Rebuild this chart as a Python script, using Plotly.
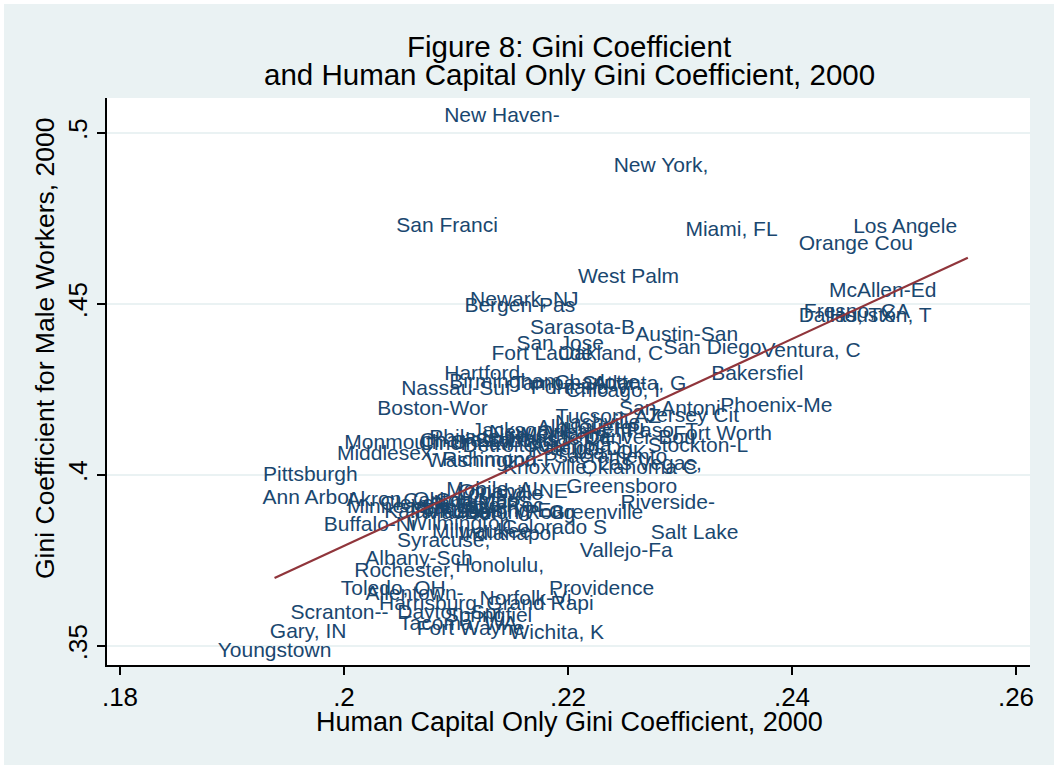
import plotly.graph_objects as go

# ---- data ----
metro = [
    "New Haven-", "New York,", "San Franci", "Miami, FL", "Los Angele", "Orange Cou",
    "West Palm", "McAllen-Ed", "Newark, NJ", "Bergen-Pas", "Fresno, CA", "Dallas, TX",
    "Houston, T", "Sarasota-B", "Austin-San", "San Jose", "San Diego", "Fort Laude",
    "Oakland, C", "Ventura, C", "Bakersfiel", "Hartford,", "Birmingham", "Tampa-St.",
    "Charlotte-", "Portland-V", "Atlanta, G", "Chicago, I", "Nassau-Suf", "Boston-Wor",
    "Phoenix-Me", "San Antoni", "Jersey Cit", "Tucson, AZ", "Nashville,", "Fort Worth",
    "Stockton-L", "El Paso, T", "Denver-Bou", "Jacksonvil", "New Orlean", "Memphis, T",
    "Albuquerqu", "Kansas Cit", "St. Louis,", "Charleston", "Cincinnati", "Philadelph",
    "Detroit-An", "Columbia,", "Raleigh-Du", "Tulsa, OK", "Sacramento", "Richmond-P",
    "Washington", "Las Vegas,", "Knoxville,", "Oklahoma C", "Monmouth-O", "Middlesex-",
    "Pittsburgh", "Ann Arbor,", "Akron, OH", "Minneapoli", "Cleveland-", "Canton-Mas",
    "Columbus,", "Louisville", "Mobile, AL", "Omaha, NE-", "Lancaster,", "Little Roc",
    "Lansing-Ea", "Baton Roug", "York, PA", "Kalamazoo-", "Madison, W", "Greenville",
    "Greensboro", "Riverside-", "Salt Lake", "Vallejo-Fa", "Colorado S", "Indianapol",
    "Milwaukee-", "Buffalo-Ni", "Wilmington", "Syracuse,", "Albany-Sch", "Honolulu,",
    "Rochester,", "Toledo, OH", "Allentown-", "Providence", "Norfolk-Vi", "Harrisburg",
    "Grand Rapi", "Scranton--", "Dayton-Spr", "Springfiel", "Tacoma, WA", "Fort Wayne",
    "Wichita, K", "Gary, IN", "Youngstown",
]

hc_gini = [
    0.2141, 0.2283, 0.2092, 0.2346, 0.2501, 0.2457,
    0.2254, 0.2481, 0.2161, 0.2157, 0.2458, 0.2449,
    0.2479, 0.2213, 0.2306, 0.2193, 0.2329, 0.2177,
    0.2238, 0.2417, 0.2369, 0.2126, 0.2144, 0.2193,
    0.2229, 0.2211, 0.2264, 0.2240, 0.2100, 0.2079,
    0.2386, 0.2291, 0.2311, 0.2236, 0.2229, 0.2338,
    0.2316, 0.2273, 0.2264, 0.2157, 0.2179, 0.2206,
    0.2220, 0.2193, 0.2157, 0.2113, 0.2108, 0.2120,
    0.2148, 0.2202, 0.2211, 0.2229, 0.2238, 0.2139,
    0.2123, 0.2273, 0.2182, 0.2264, 0.2055, 0.2039,
    0.1970, 0.1971, 0.2046, 0.2048, 0.2077, 0.2104,
    0.2126, 0.2139, 0.2135, 0.2154, 0.2113, 0.2139,
    0.2148, 0.2157, 0.2095, 0.2086, 0.2121, 0.2225,
    0.2248, 0.2289, 0.2313, 0.2252, 0.2188, 0.2146,
    0.2126, 0.2023, 0.2103, 0.2089, 0.2067, 0.2139,
    0.2054, 0.2044, 0.2063, 0.2230, 0.2162, 0.2075,
    0.2175, 0.1996, 0.2095, 0.2129, 0.2102, 0.2113,
    0.2190, 0.1968, 0.1938,
]

male_gini = [
    0.5047, 0.4900, 0.4725, 0.4713, 0.4722, 0.4672,
    0.4576, 0.4535, 0.4509, 0.4491, 0.4474, 0.4462,
    0.4462, 0.4427, 0.4406, 0.4380, 0.4368, 0.4351,
    0.4351, 0.4359, 0.4292, 0.4292, 0.4269, 0.4263,
    0.4266, 0.4251, 0.4263, 0.4243, 0.4248, 0.4190,
    0.4199, 0.4190, 0.4169, 0.4167, 0.4149, 0.4117,
    0.4082, 0.4126, 0.4105, 0.4126, 0.4120, 0.4114,
    0.4134, 0.4102, 0.4096, 0.4096, 0.4088, 0.4105,
    0.4082, 0.4082, 0.4073, 0.4061, 0.4050, 0.4041,
    0.4038, 0.4029, 0.4017, 0.4017, 0.4090, 0.4058,
    0.3997, 0.3930, 0.3924, 0.3903, 0.3912, 0.3921,
    0.3921, 0.3941, 0.3953, 0.3947, 0.3900, 0.3906,
    0.3892, 0.3886, 0.3895, 0.3889, 0.3886, 0.3886,
    0.3962, 0.3915, 0.3827, 0.3775, 0.3842, 0.3824,
    0.3830, 0.3851, 0.3854, 0.3804, 0.3751, 0.3731,
    0.3716, 0.3664, 0.3649, 0.3664, 0.3634, 0.3620,
    0.3620, 0.3593, 0.3593, 0.3585, 0.3561, 0.3547,
    0.3535, 0.3538, 0.3482,
]

# fitted line end points
fit_x = [0.1938, 0.2557]
fit_y = [0.3699, 0.4635]

x_ticks = [0.18, 0.20, 0.22, 0.24, 0.26]
x_tick_labels = [".18", ".2", ".22", ".24", ".26"]
y_ticks = [0.35, 0.40, 0.45, 0.50]
y_tick_labels = [".35", ".4", ".45", ".5"]

title_lines = ["Figure 8: Gini Coefficient",
               "and Human Capital Only Gini Coefficient, 2000"]
x_title = "Human Capital Only Gini Coefficient, 2000"
y_title = "Gini Coefficient for Male Workers, 2000"

# ---- styling ----
FONT = "Liberation Sans, Arial, sans-serif"
BG = "#EAF2F3"
NAVY = "#1a476f"
MAROON = "#90353b"

W, H = 1058, 769
ML, MR, MT, MB = 107, 28, 98, 104
pw, ph = W - ML - MR, H - MT - MB

fig = go.Figure()
fig.add_trace(go.Scatter(
    x=hc_gini, y=male_gini, text=metro, mode="text",
    textposition="middle center",
    textfont=dict(family=FONT, size=21, color=NAVY),
    showlegend=False, hoverinfo="text"))
fig.add_trace(go.Scatter(
    x=fit_x, y=fit_y, mode="lines",
    line=dict(color=MAROON, width=2.2), showlegend=False))

def py2paper(p):
    return (H - MB - p) / ph

def px2paper(p):
    return (p - ML) / pw

shapes = [
    dict(type="rect", xref="paper", yref="paper", layer="below",
         x0=px2paper(4), x1=px2paper(W - 4), y0=py2paper(H - 4), y1=py2paper(4),
         fillcolor=BG, line=dict(width=0)),
    dict(type="rect", xref="paper", yref="paper", layer="below",
         x0=0, x1=1, y0=0, y1=1, fillcolor="white", line=dict(width=0)),
]

annotations = [
    dict(text=title_lines[0], xref="paper", yref="paper", x=px2paper(569), y=py2paper(47),
         showarrow=False, font=dict(family=FONT, size=29.5, color="black"),
         xanchor="center", yanchor="middle"),
    dict(text=title_lines[1], xref="paper", yref="paper", x=px2paper(569), y=py2paper(75),
         showarrow=False, font=dict(family=FONT, size=29.5, color="black"),
         xanchor="center", yanchor="middle"),
    dict(text=x_title, xref="paper", yref="paper", x=px2paper(569), y=py2paper(722),
         showarrow=False, font=dict(family=FONT, size=27, color="black"),
         xanchor="center", yanchor="middle"),
    dict(text=y_title, xref="paper", yref="paper", x=px2paper(45), y=py2paper(348),
         showarrow=False, font=dict(family=FONT, size=26.5, color="black"),
         xanchor="center", yanchor="middle", textangle=-90),
]

fig.update_layout(
    width=W, height=H,
    margin=dict(l=ML, r=MR, t=MT, b=MB, autoexpand=False),
    paper_bgcolor="white", plot_bgcolor="white",
    shapes=shapes, annotations=annotations,
    font=dict(family=FONT, color="black"),
    xaxis=dict(range=[0.17884, 0.26125], tickvals=x_ticks, ticktext=x_tick_labels,
               showgrid=False, zeroline=False, showline=True, linecolor="black",
               linewidth=1.5, ticks="outside", ticklen=8, tickwidth=1.5,
               tickcolor="black", tickfont=dict(family=FONT, size=26, color="black")),
    yaxis=dict(range=[0.34444, 0.51023], tickvals=y_ticks, ticktext=y_tick_labels,
               showgrid=True, gridcolor=BG, gridwidth=2, zeroline=False,
               showline=True, linecolor="black", linewidth=1.5, ticks="outside",
               ticklen=8, tickwidth=1.5, tickcolor="black", tickangle=-90,
               tickfont=dict(family=FONT, size=26, color="black")),
)

fig.write_html("out.html",
               config={"displayModeBar": False},
               post_script="document.body.style.margin='0';document.body.style.overflow='hidden';")
